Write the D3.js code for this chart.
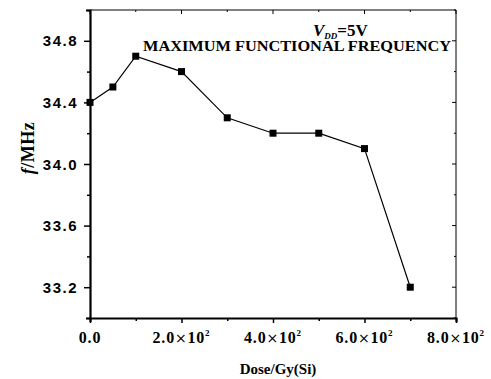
<!DOCTYPE html>
<html>
<head>
<meta charset="utf-8">
<script src="https://cdn.jsdelivr.net/npm/d3@7"></script>
<style>
  body { margin: 0; background: #fff; }
  svg { font-family: "Liberation Serif", "DejaVu Serif", serif; font-weight: bold; }
</style>
</head>
<body>
<svg width="491" height="379"></svg>
<script>
// data
var doses = [0, 50, 100, 200, 300, 400, 500, 600, 700];
var freqs = [34.4, 34.5, 34.7, 34.6, 34.3, 34.2, 34.2, 34.1, 33.2];
var xTicks = [0, 200, 400, 600, 800];
var xTickLabels = ["0.0", "2.0", "4.0", "6.0", "8.0"];
var yTicks = [33.2, 33.6, 34.0, 34.4, 34.8];

var svg = d3.select("svg");
var pLeft = 90, pRight = 456, pTop = 10, pBottom = 318;

var x = d3.scaleLinear().domain([0, 800]).range([pLeft, pRight]);
var y = d3.scaleLinear().domain([33.0, 35.0]).range([pBottom, pTop]);

// frame: top and right thin
svg.append("line").attr("x1", pLeft).attr("x2", pRight).attr("y1", pTop).attr("y2", pTop)
    .attr("stroke", "#000").attr("stroke-width", 1);
svg.append("line").attr("x1", pRight).attr("x2", pRight).attr("y1", pTop).attr("y2", pBottom)
    .attr("stroke", "#000").attr("stroke-width", 1);

// mirror ticks on top/right
var minorX = d3.range(0, 801, 100);
var minorY = d3.range(33.0, 35.01, 0.2);
svg.append("g").selectAll("line").data(minorX).enter().append("line")
    .attr("x1", function(d){ return x(d); }).attr("x2", function(d){ return x(d); })
    .attr("y1", pTop).attr("y2", function(d){ return pTop + (d % 200 === 0 ? 4 : 2); })
    .attr("stroke", "#000");
svg.append("g").selectAll("line").data(minorY).enter().append("line")
    .attr("y1", function(d){ return y(d); }).attr("y2", function(d){ return y(d); })
    .attr("x1", pRight).attr("x2", function(d, i){ return pRight - (i % 2 === 1 ? 4 : 2); })
    .attr("stroke", "#000");

// bottom axis
var xAxis = d3.axisBottom(x).tickValues(minorX).tickSize(4).tickFormat("");
var gx = svg.append("g").attr("transform", "translate(0," + pBottom + ")").call(xAxis);
gx.select(".domain").attr("stroke-width", 2.2);
gx.selectAll(".tick line").attr("stroke-width", 1.5)
    .attr("y2", function(d){ return d % 200 === 0 ? 5 : 3; });

// left axis
var yAxis = d3.axisLeft(y).tickValues(minorY).tickSize(4).tickFormat("");
var gy = svg.append("g").attr("transform", "translate(" + pLeft + ",0)").call(yAxis);
gy.select(".domain").attr("stroke-width", 2.2);
gy.selectAll(".tick line").attr("stroke-width", 1.5)
    .attr("x2", function(d, i){ return i % 2 === 1 ? -6 : -3; });

// y tick labels
svg.append("g").selectAll("text").data(yTicks).enter().append("text")
    .attr("x", pLeft - 12).attr("y", function(d){ return y(d) + 5.5; })
    .attr("text-anchor", "end").attr("font-size", 15)
    .attr("font-family", "Liberation Sans, Arial, sans-serif")
    .attr("letter-spacing", 1.5)
    .text(function(d){ return d.toFixed(1); });

// x tick labels
var xl = svg.append("g").selectAll("text").data(xTicks).enter().append("text")
    .attr("x", function(d){ return x(d); }).attr("y", 343)
    .attr("text-anchor", "middle").attr("font-size", 16).attr("letter-spacing", 0.8);
xl.each(function(d, i){
  var t = d3.select(this);
  if (i === 0) { t.text(xTickLabels[i]); return; }
  t.append("tspan").text(xTickLabels[i]);
  t.append("tspan").attr("font-family", "DejaVu Sans").attr("font-size", 14)
      .attr("font-weight", "normal").text("\u00d7");
  t.append("tspan").text("10");
  t.append("tspan").attr("dy", -7).attr("font-size", 9).text("2");
});

// axis titles
svg.append("text").attr("x", 278).attr("y", 374).attr("text-anchor", "middle")
    .attr("font-size", 15).text("Dose/Gy(Si)");
var yl = svg.append("text").attr("transform", "translate(34,148) rotate(-90)")
    .attr("text-anchor", "middle").attr("font-size", 18).attr("letter-spacing", 0.5);
yl.append("tspan").attr("font-style", "italic").text("f");
yl.append("tspan").text("/MHz");

// annotations
var vdd = svg.append("text").attr("x", 313).attr("y", 36).attr("font-size", 17);
vdd.append("tspan").attr("font-style", "italic").text("V");
vdd.append("tspan").attr("font-style", "italic").attr("font-size", 9).attr("dy", 3).text("DD");
vdd.append("tspan").attr("dy", -3).text("=5V");
svg.append("text").attr("x", 143).attr("y", 51).attr("font-size", 14)
    .attr("textLength", 308).attr("lengthAdjust", "spacingAndGlyphs")
    .text("MAXIMUM FUNCTIONAL FREQUENCY");

// series
var line = d3.line().x(function(d, i){ return x(doses[i]); }).y(function(d){ return y(d); });
svg.append("path").datum(freqs).attr("d", line)
    .attr("fill", "none").attr("stroke", "#000").attr("stroke-width", 1.2);
svg.append("g").selectAll("rect").data(freqs).enter().append("rect")
    .attr("x", function(d, i){ return x(doses[i]) - 3.5; })
    .attr("y", function(d){ return y(d) - 3.5; })
    .attr("width", 7).attr("height", 7).attr("fill", "#000");
</script>
</body>
</html>
